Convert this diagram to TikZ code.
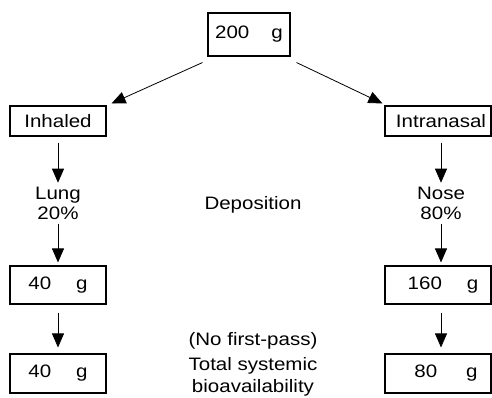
\documentclass[tikz,border=0pt]{standalone}
\usepackage{fontspec}
\setmainfont[FakeStretch=1.14]{Liberation Sans}
\usetikzlibrary{arrows.meta}
\begin{document}
\begin{tikzpicture}[x=1pt,y=-1pt,
  font=\fontsize{18}{20}\selectfont,
  box/.style={draw,line width=1.1pt,inner sep=0pt,anchor=center},
  lbl/.style={inner sep=0pt,align=center,anchor=base},
  arr/.style={-{Triangle[length=14pt,width=12pt]},line width=0.8pt}]
\useasboundingbox (0,0) rectangle (492,397);
% boxes
\node[box,minimum width=82pt,minimum height=43pt] (top) at (249,34.5) {200\hspace{22pt}g};
\node[box,minimum width=96pt,minimum height=30pt] (inh) at (58,121) {Inhaled};
\node[box,minimum width=106pt,minimum height=30pt] (intr) at (438,121) {\hspace{6pt}Intranasal};
\node[box,minimum width=96pt,minimum height=38pt] (l1) at (58,285) {40\hspace{25pt}g};
\node[box,minimum width=96pt,minimum height=39pt] (l2) at (58,373.5) {40\hspace{25pt}g};
\node[box,minimum width=106pt,minimum height=38pt] (r1) at (438,285) {\hspace{10pt}160\hspace{25pt}g};
\node[box,minimum width=106pt,minimum height=39pt] (r2) at (438,373.5) {\hspace{16pt}80\hspace{29pt}g};
% labels
\node[lbl] (lung) at (58,219.3) {Lung\\20\%};
\node[lbl] (nose) at (441,219.3) {Nose\\80\%};
\node[lbl] (dep) at (253,209) {Deposition};
\node[lbl] (nfp) at (253,345) {(No first-pass)};
\node[lbl,font=\fontsize{18}{22.7}\selectfont] (tsb) at (253,392.7) {Total systemic\\bioavailability};
% connectors
\draw[arr] ([shift={(-5,6)}]top.south west) -- ([shift={(5,-2)}]inh.north east);
\draw[arr] ([shift={(6,6)}]top.south east) -- ([shift={(-2,-2)}]intr.north west);
\draw[arr] ([yshift=-6pt]inh.south) -- ([yshift=4pt]lung.north);
\draw[arr] ([yshift=-6pt]intr.south -| nose) -- ([yshift=4pt]nose.north);
\draw[arr] ([yshift=-4pt]lung.south) -- ([yshift=3pt]l1.north);
\draw[arr] ([yshift=-4pt]nose.south) -- ([yshift=3pt]r1.north -| nose);
\draw[arr] ([yshift=-8pt]l1.south) -- ([yshift=6pt]l2.north);
\draw[arr] ([yshift=-8pt]r1.south -| nose) -- ([yshift=6pt]r2.north -| nose);
\end{tikzpicture}
\end{document}
